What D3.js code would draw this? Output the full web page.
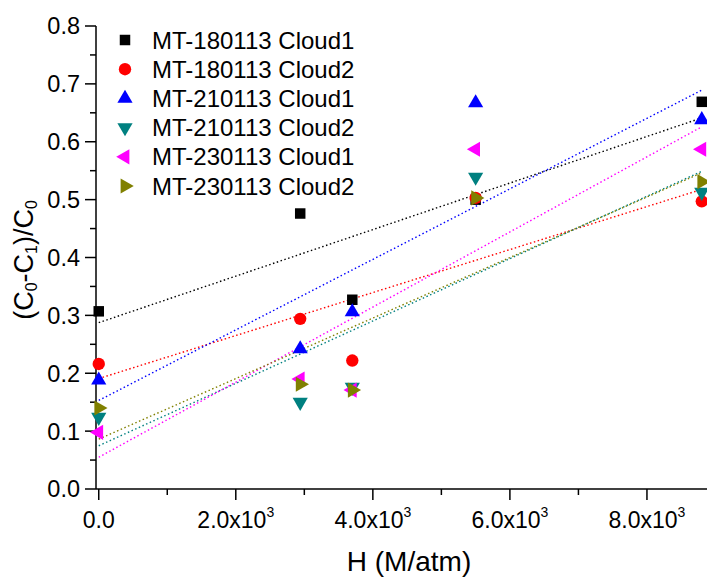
<!DOCTYPE html>
<html>
<head>
<meta charset="utf-8">
<script src="https://cdn.jsdelivr.net/npm/d3@7"></script>
<style>
body { margin: 0; background: #fff; }
svg { font-family: "Liberation Sans", Arial, sans-serif; }
</style>
</head>
<body>
<div id="chart"></div>
<script>
// H values (M/atm) shared by every series
var hValues = [0, 2940, 3700, 5500, 8800];

var seriesNames = [
	'MT-180113 Cloud1',
	'MT-180113 Cloud2',
	'MT-210113 Cloud1',
	'MT-210113 Cloud2',
	'MT-230113 Cloud1',
	'MT-230113 Cloud2'
];

var cloudA180 = [0.307, 0.476, 0.327, 0.500, 0.669];
var cloudB180 = [0.216, 0.294, 0.222, 0.503, 0.497];
var cloudA210 = [0.188, 0.242, 0.306, 0.667, 0.638];
var cloudB210 = [0.124, 0.150, 0.176, 0.539, 0.513];
var cloudA230 = [0.098, 0.190, 0.171, 0.587, 0.587];
var cloudB230 = [0.140, 0.181, 0.171, 0.503, 0.531];

var seriesValues = [cloudA180, cloudB180, cloudA210, cloudB210, cloudA230, cloudB230];

var xTicks = [0, 2000, 4000, 6000, 8000];
var yTicks = [0, 0.1, 0.2, 0.3, 0.4, 0.5, 0.6, 0.7, 0.8];

var colors = ['#000000', '#ff0000', '#0000ff', '#008080', '#ff00ff', '#808000'];

var W = 707, H = 577;

var svg = d3.select('#chart').append('svg')
	.attr('width', W)
	.attr('height', H);

var x = d3.scaleLinear().domain([-40, 8920]).range([96, 710]);
var y = d3.scaleLinear().domain([0, 0.8]).range([489, 26]);

// marker shapes: symbol + rotation
var shapes = [
	{ type: d3.symbolSquare, size: 110, rot: 0 },
	{ type: d3.symbolCircle, size: 120, rot: 0 },
	{ type: d3.symbolTriangle, size: 100, rot: 0 },
	{ type: d3.symbolTriangle, size: 100, rot: 180 },
	{ type: d3.symbolTriangle, size: 100, rot: -90 },
	{ type: d3.symbolTriangle, size: 100, rot: 90 }
];

function markerPath(i) {
	return d3.symbol().type(shapes[i].type).size(shapes[i].size)();
}

// least squares fit
function fit(xs, ys) {
	var mx = d3.mean(xs), my = d3.mean(ys);
	var sxy = 0, sxx = 0;
	for (var i = 0; i < xs.length; i++) {
		sxy += (xs[i] - mx) * (ys[i] - my);
		sxx += (xs[i] - mx) * (xs[i] - mx);
	}
	var b = sxy / sxx;
	return { a: my - b * mx, b: b };
}

// axes
var xAxis = svg.append('g').attr('transform', 'translate(0,489)');
xAxis.append('line').attr('x1', 96).attr('x2', 710).attr('stroke', '#000').attr('stroke-width', 1.5);
d3.range(0, 9000, 1000).forEach(function (v) {
	var major = v % 2000 == 0;
	xAxis.append('line')
		.attr('x1', x(v)).attr('x2', x(v))
		.attr('y1', 0).attr('y2', major ? 11 : 6)
		.attr('stroke', '#000').attr('stroke-width', 1.5);
});
xTicks.forEach(function (v) {
	var t = xAxis.append('text')
		.attr('x', x(v))
		.attr('y', 39)
		.attr('text-anchor', 'middle')
		.attr('font-size', 23);
	if (v == 0) {
		t.text('0.0');
	} else {
		t.append('tspan').text((v / 1000).toFixed(1) + 'x10');
		t.append('tspan').attr('font-size', 14).attr('dy', -11).text('3');
	}
});

var yAxis = svg.append('g');
yAxis.append('line').attr('x1', 96).attr('x2', 96).attr('y1', y(0)).attr('y2', y(0.8))
	.attr('stroke', '#000').attr('stroke-width', 1.5);
d3.range(0, 17).forEach(function (k) {
	var v = k * 0.05;
	var major = k % 2 == 0;
	yAxis.append('line')
		.attr('x1', major ? 85 : 90).attr('x2', 96)
		.attr('y1', y(v)).attr('y2', y(v))
		.attr('stroke', '#000').attr('stroke-width', 1.5);
});
yTicks.forEach(function (v) {
	yAxis.append('text')
		.attr('x', 80)
		.attr('y', y(v))
		.attr('dy', '0.36em')
		.attr('text-anchor', 'end')
		.attr('font-size', 23.5)
		.text(v.toFixed(1));
});

// axis titles
svg.append('text')
	.attr('x', 409)
	.attr('y', 571)
	.attr('text-anchor', 'middle')
	.attr('font-size', 28)
	.text('H (M/atm)');

var yl = svg.append('text')
	.attr('transform', 'translate(33,260) rotate(-90)')
	.attr('text-anchor', 'middle')
	.attr('font-size', 27);
yl.append('tspan').text('(C');
yl.append('tspan').attr('font-size', 16).attr('dy', 4).text('0');
yl.append('tspan').attr('dy', -4).text('-C');
yl.append('tspan').attr('font-size', 16).attr('dy', 4).text('1');
yl.append('tspan').attr('dy', -4).text(')/C');
yl.append('tspan').attr('font-size', 16).attr('dy', 4).text('0');

// fit lines
var fitLayer = svg.append('g');
seriesValues.forEach(function (vals, i) {
	var f = fit(hValues, vals);
	var x0 = 0, x1 = d3.max(hValues);
	fitLayer.append('line')
		.attr('x1', x(x0)).attr('y1', y(f.a + f.b * x0))
		.attr('x2', x(x1)).attr('y2', y(f.a + f.b * x1))
		.attr('stroke', colors[i])
		.attr('stroke-width', 1.4)
		.attr('stroke-dasharray', '1.5,2.5');
});

// points
seriesValues.forEach(function (vals, i) {
	svg.append('g').selectAll('path')
		.data(vals)
		.enter()
		.append('path')
		.attr('d', markerPath(i))
		.attr('transform', function (d, j) {
			return 'translate(' + x(hValues[j]) + ',' + y(d) + ') rotate(' + shapes[i].rot + ')';
		})
		.attr('fill', colors[i]);
});

// legend
var legend = svg.append('g');
seriesNames.forEach(function (name, i) {
	var ly = 40 + i * 29.2;
	legend.append('path')
		.attr('d', markerPath(i))
		.attr('transform', 'translate(125,' + ly + ') rotate(' + shapes[i].rot + ')')
		.attr('fill', colors[i]);
	legend.append('text')
		.attr('x', 152)
		.attr('y', ly)
		.attr('dy', '0.36em')
		.attr('font-size', 24)
		.text(name);
});
</script>
</body>
</html>
